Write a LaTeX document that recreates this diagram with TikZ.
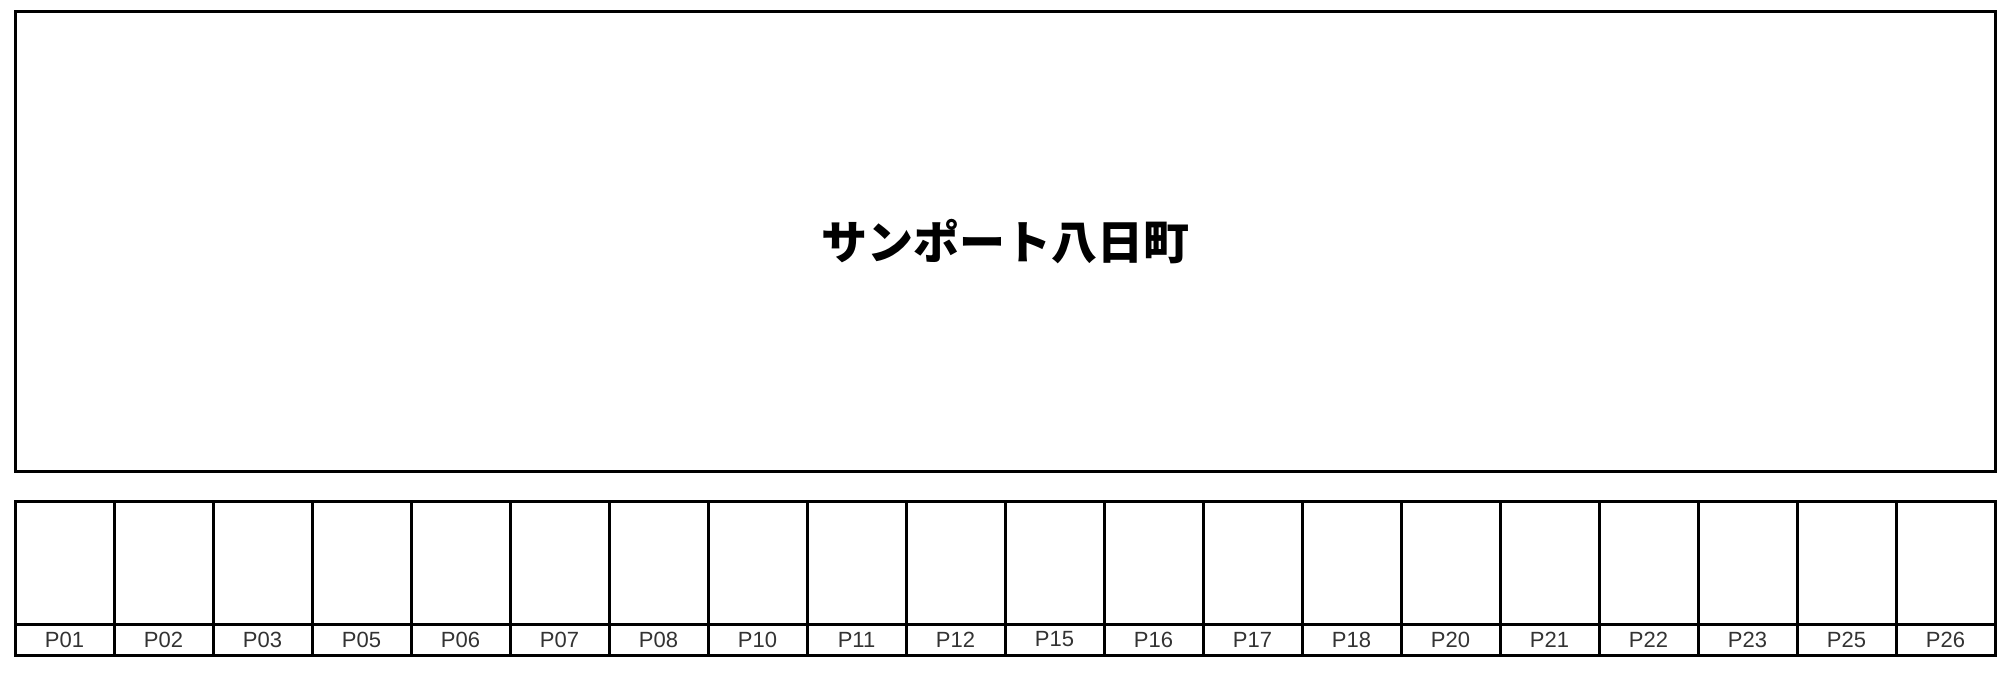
\documentclass[tikz,border=0pt]{standalone}
\usepackage{fontspec}
\setmainfont{Liberation Sans}
\newfontfamily\cjk{Noto Sans CJK JP}
\tikzset{
  frame/.style={draw=black, line width=1.5pt, inner sep=0pt, fill=white},
  slot/.style={frame, minimum width=49.5pt, minimum height=61.5pt},
  lab/.style={frame, minimum width=49.5pt, minimum height=15.5pt, font=\fontsize{11pt}{12pt}\selectfont, text=black!80},
}
\begin{document}
\begin{tikzpicture}[x=0.5pt,y=-0.5pt]
\useasboundingbox (0,0) rectangle (2008,674);
\node[frame, minimum width=990pt, minimum height=229.5pt] (main) at (1005,241.5) {};
\node[font=\cjk\bfseries\fontsize{23pt}{27pt}\selectfont] (title) at (main.center) {サンポート八日町};
\foreach \n [count=\i from 0] in {P01,P02,P03,P05,P06,P07,P08,P10,P11,P12,P15,P16,P17,P18,P20,P21,P22,P23,P25,P26}{
  \node[slot] (s\i) at ({15+\i*99+49.5},562.5) {};
  \node[lab] (l\i) at ({15+\i*99+49.5},639.5) {\n};
}
\end{tikzpicture}
\end{document}
